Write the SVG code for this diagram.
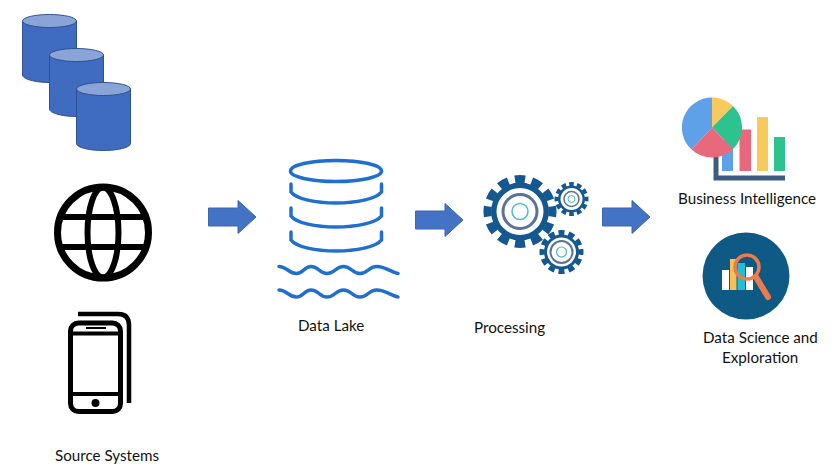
<svg xmlns="http://www.w3.org/2000/svg" width="838" height="470" viewBox="0 0 838 470">
<style>
text{font-family:"Lato","Liberation Sans",sans-serif;font-size:15.2px;fill:#111}
.cb{fill:#3f6cc0;stroke:#2f528f;stroke-width:1}
.ct{fill:#8ba4d8;stroke:#2f528f;stroke-width:1}
.bl{fill:none;stroke:#000}
.lk{fill:none;stroke:#1f6fd0;stroke-width:3.5;stroke-linecap:round}
.ar{fill:#4472c4;stroke:#3b66b0;stroke-width:1}
.g{fill:#14588f}
.gt{fill:none;stroke:#14588f}
.w{fill:#fff}
.r{fill:none;stroke:#5b7195}
.t{fill:none;stroke:#4fbdbd}
</style>
<rect width="838" height="470" fill="#fff"/>
<g id="source-databases">
<path class="cb" d="M22.500 21V75C22.500 79 35 82.500 49.500 82.500S76.500 79 76.500 75V21Z"/><ellipse class="ct" cx="49.500" cy="21" rx="27" ry="6.500"/>
<path class="cb" d="M49.500 55V109C49.500 113 62 116.500 76.500 116.500S103.500 113 103.500 109V55Z"/><ellipse class="ct" cx="76.500" cy="55" rx="27" ry="6.500"/>
<path class="cb" d="M76.500 89V143.500C76.500 147.500 89 150.500 103.500 150.500S130.500 147.500 130.500 143.500V89Z"/><ellipse class="ct" cx="103.500" cy="89" rx="27" ry="6.500"/>
</g>
<g id="source-web" class="bl">
<circle cx="103" cy="232.500" r="45.500" stroke-width="7"/>
<ellipse cx="103" cy="232.500" rx="15.500" ry="45" stroke-width="6"/>
<path d="M62 217H144M62 247H144" stroke-width="6"/>
</g>
<g id="source-mobile">
<path class="bl" d="M78 314H118Q129 314 129 325V403" stroke-width="4.500"/>
<rect class="bl" x="70.500" y="323" width="50" height="88.500" rx="8" stroke-width="5"/>
<path class="bl" d="M70 333.500H121M70 394H121" stroke-width="4"/>
<path class="bl" d="M86 328H106" stroke-width="2"/>
<circle cx="95.500" cy="403" r="4"/>
</g>
<text id="source-label" x="55" y="461">Source Systems</text>
<g id="connectors">
<path class="ar" d="M208.500 208H238V200.500L256 217L238 233.500V226H208.500Z"/>
<path class="ar" d="M415.500 211H445V203.500L463 220L445 236.500V229H415.500Z"/>
<path class="ar" d="M602.500 208H632V200.500L650 217L632 233.500V226H602.500Z"/>
</g>
<g id="data-lake">
<ellipse class="lk" cx="336" cy="171" rx="45.500" ry="10.500"/>
<path class="lk" d="M291 184V192C296 199 316 203 336 203S376 199 381.500 192V184"/>
<path class="lk" d="M291 208V216C296 223 316 227 336 227S376 223 381.500 216V208"/>
<path class="lk" d="M291 232V240C296 247 316 251 336 251S376 247 381.500 240V232"/>
<path class="lk" d="M279 266.500C287 266.500 288.500 273.500 296.500 273.500C303.500 273.500 304 266.500 311 266.500C319 266.500 319 273.500 327 273.500C335 273.500 335.500 266.500 343.500 266.500C351.500 266.500 352 273.500 360 273.500C368 273.500 368.500 266.500 376.500 266.500C386 266.500 390 272 398 273.500"/>
<path class="lk" d="M279 290C287 290 288.500 297 296.500 297C303.500 297 304 290 311 290C319 290 319 297 327 297C335 297 335.500 290 343.500 290C351.500 290 352 297 360 297C368 297 368.500 290 376.500 290C386 290 390 295.500 398 297"/>
<text x="298" y="331">Data Lake</text>
</g>
<g id="processing">
<circle class="g" cx="520" cy="211.500" r="29"/>
<circle class="gt" cx="520" cy="211.500" r="32.500" stroke-width="8" pathLength="24" stroke-dasharray="1.200 0.800" stroke-dashoffset="0.600"/>
<circle class="w" cx="520" cy="211.500" r="23.500"/>
<circle class="r" cx="520" cy="211.500" r="17" stroke-width="3"/>
<circle class="t" cx="520" cy="211.500" r="8" stroke-width="1.500"/>
<circle class="g" cx="571.500" cy="199" r="13.500"/>
<circle class="gt" cx="571.500" cy="199" r="15" stroke-width="4" pathLength="24" stroke-dasharray="1.200 0.800" stroke-dashoffset="0.600"/>
<circle class="w" cx="571.500" cy="199" r="11"/>
<circle class="r" cx="571.500" cy="199" r="7.500" stroke-width="1.500"/>
<circle class="t" cx="571.500" cy="199" r="3.500" stroke-width="1"/>
<circle class="g" cx="561.500" cy="252" r="17.500"/>
<circle class="gt" cx="561.500" cy="252" r="19.500" stroke-width="5" pathLength="24" stroke-dasharray="1.200 0.800" stroke-dashoffset="0.600"/>
<circle class="w" cx="561.500" cy="252" r="14.500"/>
<circle class="r" cx="561.500" cy="252" r="11" stroke-width="2"/>
<circle class="t" cx="561.500" cy="252" r="5" stroke-width="1.200"/>
<text x="474" y="333">Processing</text>
</g>
<g id="business-intelligence">
<path fill="#3d5a80" d="M713.500 150H718.500V175.500H785V180.500H713.500Z"/>
<rect x="722" y="140" width="11" height="31" fill="#5fa1e8"/>
<rect x="739.500" y="129.500" width="11.500" height="41.500" fill="#e8697c"/>
<rect x="757" y="117" width="11" height="54" fill="#f8c95c"/>
<rect x="774" y="137" width="11" height="34" fill="#2cc38f"/>
<path fill="#5fa1e8" d="M712 127.500V97.500A30 30 0 0 0 691.500 149.500Z"/>
<path fill="#f8c95c" d="M712 127.500V97.500A30 30 0 0 1 733 106Z"/>
<path fill="#2cc38f" d="M712 127.500L733 106A30 30 0 0 1 733 149Z"/>
<path fill="#e8697c" d="M712 127.500L733 149A30 30 0 0 1 691.500 149.500Z"/>
<text x="678" y="204">Business Intelligence</text>
</g>
<g id="data-science">
<circle cx="746" cy="276" r="43.500" fill="#0f5a85"/>
<rect x="722" y="270" width="7" height="20" fill="#fff"/>
<rect x="730" y="259" width="6.500" height="31" fill="#f5c156"/>
<rect x="737.500" y="263" width="7.500" height="27" fill="#1fc0d6"/>
<rect x="746" y="267" width="7" height="23" fill="#fff"/>
<circle cx="747" cy="267" r="12" fill="none" stroke="#ee7b4e" stroke-width="3.500"/>
<path d="M756 277L768 297" stroke="#ee7b4e" stroke-width="6" stroke-linecap="round"/>
<text x="703" y="343">Data Science and</text>
<text x="722" y="363">Exploration</text>
</g>
</svg>
